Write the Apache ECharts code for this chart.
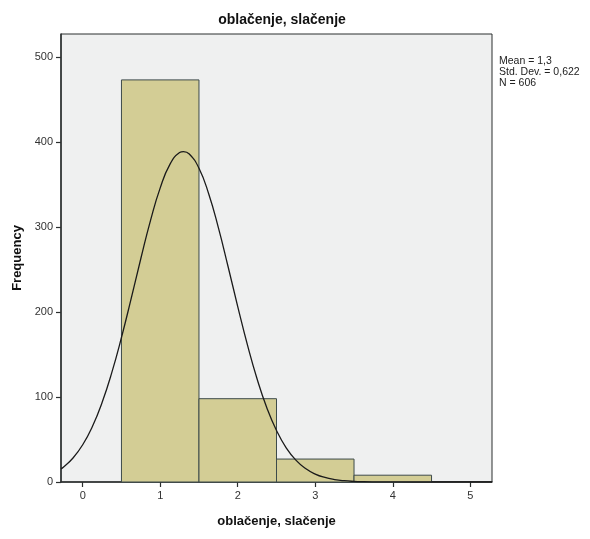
<!DOCTYPE html>
<html><head><meta charset="utf-8">
<script src="https://cdn.jsdelivr.net/npm/echarts@6/dist/echarts.min.js"></script>
<style>html,body{margin:0;padding:0;background:#fff}#c{width:590px;height:539px}</style>
</head><body><div id="c"></div>
<script>
// Histogram bins (lower edge, upper edge) and frequencies
const binStarts = [0.5, 1.5, 2.5, 3.5];
const binEnds = [1.5, 2.5, 3.5, 4.5];
const frequencies = [473, 98, 27, 8];
// Normal curve points (x, expected frequency)
const curveX = [-0.28,-0.25,-0.125,0,0.125,0.25,0.375,0.5,0.625,0.75,0.875,1.0,1.125,1.25,1.3,1.375,1.5,1.625,1.75,1.875,2.0,2.125,2.25,2.375,2.5,2.625,2.75,2.875,3.0,3.125,3.25,3.375,3.5,3.625,3.75,4.0,4.5,5.0,5.28];
const curveY = [15.4,17.4,28.2,43.8,65.3,93.5,128.6,170.0,215.7,262.9,307.8,346.0,373.6,387.5,388.7,385.9,369.1,339.1,299.2,253.5,206.4,161.3,121.1,87.3,60.5,40.2,25.7,15.8,9.3,5.3,2.9,1.5,0.75,0.36,0.17,0.03,0,0,0];
const xTicks = [0, 1, 2, 3, 4, 5];
const yTicks = [0, 100, 200, 300, 400, 500];
const titleText = 'oblačenje, slačenje';
const statsLines = ['Mean = 1,3', 'Std. Dev. = 0,622', 'N = 606'];

const chart = echarts.init(document.getElementById('c'), null, {renderer: 'canvas'});
const dark = '#2b2f2f';
const barData = frequencies.map((f, i) => [binStarts[i], binEnds[i], f]);
const lineData = curveX.map((x, i) => [x, curveY[i]]);
chart.setOption({
  animation: false,
  backgroundColor: '#ffffff',
  title: {
    text: titleText, left: 277, top: 8, textAlign: 'center',
    textStyle: {fontFamily: 'Liberation Sans, Arial', fontSize: 14, fontWeight: 'bold', color: '#111'}
  },
  graphic: statsLines.map((t, i) => ({
    type: 'text', left: 499, top: 56 + i * 11,
    style: {text: t, font: '10.5px "Liberation Sans", Arial', fill: '#222'}
  })),
  grid: {left: 61, right: 98, top: 34, bottom: 57, show: true, backgroundColor: '#eff0f0', borderColor: dark, borderWidth: 1},
  xAxis: {
    type: 'value', min: -0.28, max: 5.28,
    name: titleText, nameLocation: 'middle', nameGap: 33,
    nameTextStyle: {fontFamily: 'Liberation Sans, Arial', fontSize: 13, fontWeight: 'bold', color: '#111'},
    axisLine: {show: true, onZero: false, lineStyle: {color: dark, width: 1.5}},
    axisTick: {show: true, length: 5, customValues: xTicks, lineStyle: {color: dark, width: 1.2}},
    axisLabel: {customValues: xTicks, fontFamily: 'Liberation Sans, Arial', fontSize: 11, color: '#333', margin: 8},
    splitLine: {show: false}
  },
  yAxis: {
    type: 'value', min: 0, max: 527,
    name: 'Frequency', nameLocation: 'middle', nameGap: 36, nameRotate: 90,
    nameTextStyle: {fontFamily: 'Liberation Sans, Arial', fontSize: 13, fontWeight: 'bold', color: '#111'},
    axisLine: {show: true, onZero: false, lineStyle: {color: dark, width: 1.5}},
    axisTick: {show: true, length: 5, customValues: yTicks, lineStyle: {color: dark, width: 1.2}},
    axisLabel: {customValues: yTicks, fontFamily: 'Liberation Sans, Arial', fontSize: 11, color: '#333', margin: 8},
    splitLine: {show: false}
  },
  series: [
    {
      type: 'custom',
      data: barData,
      encode: {x: [0, 1], y: 2},
      renderItem: function (params, api) {
        const p0 = api.coord([api.value(0), api.value(2)]);
        const p1 = api.coord([api.value(1), 0]);
        return {
          type: 'rect',
          shape: {x: p0[0], y: p0[1], width: p1[0] - p0[0], height: p1[1] - p0[1]},
          style: {fill: '#d3cd95', stroke: '#3d4b4b', lineWidth: 1}
        };
      },
      z: 2
    },
    {
      type: 'line', data: lineData, smooth: true, showSymbol: false,
      lineStyle: {color: '#1a1a1a', width: 1.3}, z: 3
    }
  ]
});
</script></body></html>
